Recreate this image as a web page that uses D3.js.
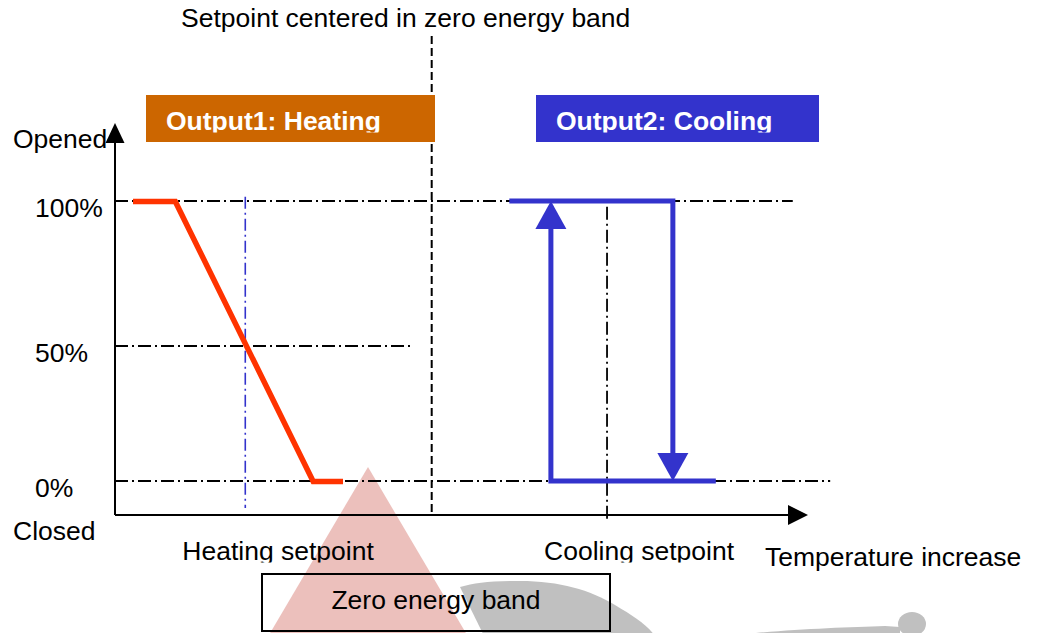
<html>
<head>
<style>
  body { margin: 0; background: white; }
  text { font-family: "Liberation Sans", Arial, sans-serif; }
</style>
</head>
<body>
<svg id="svg" width="1037" height="633"></svg>
<script src="https://cdn.jsdelivr.net/npm/d3@7"></script>
<script>

// temperature is in arbitrary units 0..100 along the x axis, opening in %
var heatTemp = [2.6, 8.7, 28.6, 32.9];
var heatOpen = [100, 100, 0, 0];

var coolOnTemp = [86.7, 62.9, 62.9];   // closed -> opens when rising back up
var coolOnOpen = [0, 0, 100];
var coolOffTemp = [56.9, 80.5, 80.5];  // opened -> drops to closed
var coolOffOpen = [100, 100, 0];

var levels = [100, 50, 0];
var levelLabels = ["100%", "50%", "0%"];
var levelEnds = [97.8, 42.7, 103.2];

var setpointNames = ["Heating setpoint", "Setpoint centered in zero energy band", "Cooling setpoint"];
var setpointTemps = [18.8, 45.7, 71.0];

var W = 1037, H = 633;
var axisY = 515;
var fs = 26.5;

var x = d3.scaleLinear().domain([0, 100]).range([115, 808]);
var y = d3.scaleLinear().domain([0, 50, 100]).range([481, 346, 201]);

var svg = d3.select("#svg");
var defs = svg.append("defs");

// ---- watermark in the background
var wm = svg.append("g").attr("class", "watermark");
wm.append("path")
  .attr("d", "M368,467 L470,640 L266,640 Z")
  .style("fill", "#ecc0bc");
wm.append("path")
  .attr("d", "M460,587 C475,583 490,581 520,581 C560,581 590,590 615,605 C635,617 648,625 658,640 L486,640 Z")
  .style("fill", "#c0c0c0");
wm.append("path")
  .attr("d", "M756,633 C800,629 850,627 885,626 L900,627 L900,634 Z")
  .style("fill", "#c0c0c0");
wm.append("ellipse")
  .attr("cx", 912).attr("cy", 624).attr("rx", 14).attr("ry", 12)
  .style("fill", "#c0c0c0");

// ---- reference lines (dash-dot)
var dashDot = "13,4,2,4";
svg.selectAll("line.level").data(levels)
  .join("line").classed("level", true)
    .attr("x1", x(0)).attr("x2", (d, i) => x(levelEnds[i]))
    .attr("y1", d => y(d)).attr("y2", d => y(d))
    .style("stroke", "black").style("stroke-width", 1.8)
    .style("stroke-dasharray", dashDot);

// heating setpoint (blue dash-dot)
svg.append("line")
  .attr("x1", x(setpointTemps[0])).attr("x2", x(setpointTemps[0]))
  .attr("y1", y(101.5)).attr("y2", y(-10))
  .style("stroke", "#3333cc").style("stroke-width", 1.6)
  .style("stroke-dasharray", "12,4,2,4");

// cooling setpoint (black dash-dot)
svg.append("line")
  .attr("x1", x(setpointTemps[2])).attr("x2", x(setpointTemps[2]))
  .attr("y1", y(98)).attr("y2", y(-15.5))
  .style("stroke", "black").style("stroke-width", 1.8)
  .style("stroke-dasharray", dashDot);

// centre setpoint (dashed)
svg.append("line")
  .attr("x1", x(setpointTemps[1])).attr("x2", x(setpointTemps[1]))
  .attr("y1", 36).attr("y2", axisY)
  .style("stroke", "black").style("stroke-width", 2)
  .style("stroke-dasharray", "8,4");

// ---- axes with arrow heads
svg.append("line")
  .attr("x1", x(0)).attr("x2", x(0)).attr("y1", axisY).attr("y2", 140)
  .style("stroke", "black").style("stroke-width", 2);
svg.append("path")
  .attr("d", d3.line()([[x(0), 123], [x(0) + 9.5, 143], [x(0) - 9.5, 143]]) + "Z")
  .style("fill", "black");
svg.append("line")
  .attr("x1", x(0)).attr("x2", 792).attr("y1", axisY).attr("y2", axisY)
  .style("stroke", "black").style("stroke-width", 2);
svg.append("path")
  .attr("d", d3.line()([[808, axisY], [788, axisY - 10], [788, axisY + 10]]) + "Z")
  .style("fill", "black");

// ---- heating output
var line = d3.line().x(d => x(d[0])).y(d => y(d[1]));
svg.append("path")
  .attr("d", line(d3.zip(heatTemp, heatOpen)))
  .attr("transform", "translate(0,0.5)")
  .style("fill", "none").style("stroke", "#ff3300").style("stroke-width", 5.5)
  .style("stroke-linejoin", "miter");

// ---- cooling output with arrows
function arrowPath(temps, opens) {
  var pts = d3.zip(temps, opens).map(d => [x(d[0]), y(d[1])]);
  var n = pts.length;
  var tip = pts[n - 1], prev = pts[n - 2];
  var dx = tip[0] - prev[0], dy = tip[1] - prev[1];
  var len = Math.sqrt(dx * dx + dy * dy);
  var ux = dx / len, uy = dy / len;
  var L = 28, hw = 15.5;
  var base = [tip[0] - ux * L, tip[1] - uy * L];
  var shaft = pts.slice(0, n - 1).concat([base]);
  var head = [tip, [base[0] - uy * hw, base[1] + ux * hw], [base[0] + uy * hw, base[1] - ux * hw]];
  return {shaft: shaft, head: head};
}

[[coolOnTemp, coolOnOpen], [coolOffTemp, coolOffOpen]].forEach(s => {
  var a = arrowPath(s[0], s[1]);
  svg.append("path")
    .attr("d", d3.line()(a.shaft))
    .style("fill", "none").style("stroke", "#3333cc").style("stroke-width", 5);
  svg.append("path")
    .attr("d", d3.line()(a.head) + "Z")
    .style("fill", "#3333cc");
});

// ---- output boxes
var boxes = [
  {label: "Output1: Heating", x0: 146, x1: 435, color: "#cc6600"},
  {label: "Output2: Cooling", x0: 536, x1: 819, color: "#3333cc"}
];
boxes.forEach((b, i) => {
  defs.append("clipPath").attr("id", "bclip" + i)
    .append("rect").attr("x", b.x0).attr("y", 95).attr("width", b.x1 - b.x0).attr("height", 37.5);
  svg.append("rect")
    .attr("x", b.x0).attr("y", 95).attr("width", b.x1 - b.x0).attr("height", 47)
    .style("fill", b.color);
  svg.append("text")
    .attr("x", b.x0 + 20).attr("y", 130)
    .attr("clip-path", "url(#bclip" + i + ")")
    .attr("font-size", fs).attr("font-weight", "bold")
    .style("fill", "white")
    .text(b.label);
});

// ---- y labels
svg.selectAll("text.lvl").data(levels)
  .join("text").classed("lvl", true)
    .attr("x", 35).attr("y", d => y(d) + 16)
    .attr("font-size", fs)
    .text((d, i) => levelLabels[i]);
svg.append("text").attr("x", 13).attr("y", 148).attr("font-size", fs).text("Opened");
svg.append("text").attr("x", 13).attr("y", 540).attr("font-size", fs).text("Closed");

// ---- setpoint labels
svg.append("text").attr("x", 181).attr("y", 27).attr("font-size", fs).text(setpointNames[1]);
defs.append("clipPath").attr("id", "spclip")
  .append("rect").attr("x", 0).attr("y", 520).attr("width", 760).attr("height", 42.5);
[0, 2].forEach(i => {
  svg.append("text")
    .attr("x", x(setpointTemps[i]) - 63).attr("y", 560)
    .attr("clip-path", "url(#spclip)")
    .attr("font-size", fs)
    .text(setpointNames[i]);
});
svg.append("text").attr("x", 765).attr("y", 566).attr("font-size", fs).text("Temperature increase");

// ---- zero energy band box
svg.append("rect")
  .attr("x", 262).attr("y", 574).attr("width", 348).attr("height", 57)
  .style("fill", "none").style("stroke", "black").style("stroke-width", 2);
svg.append("text").attr("x", 436).attr("y", 609).attr("text-anchor", "middle")
  .attr("font-size", fs).text("Zero energy band");

</script>
</body>
</html>
